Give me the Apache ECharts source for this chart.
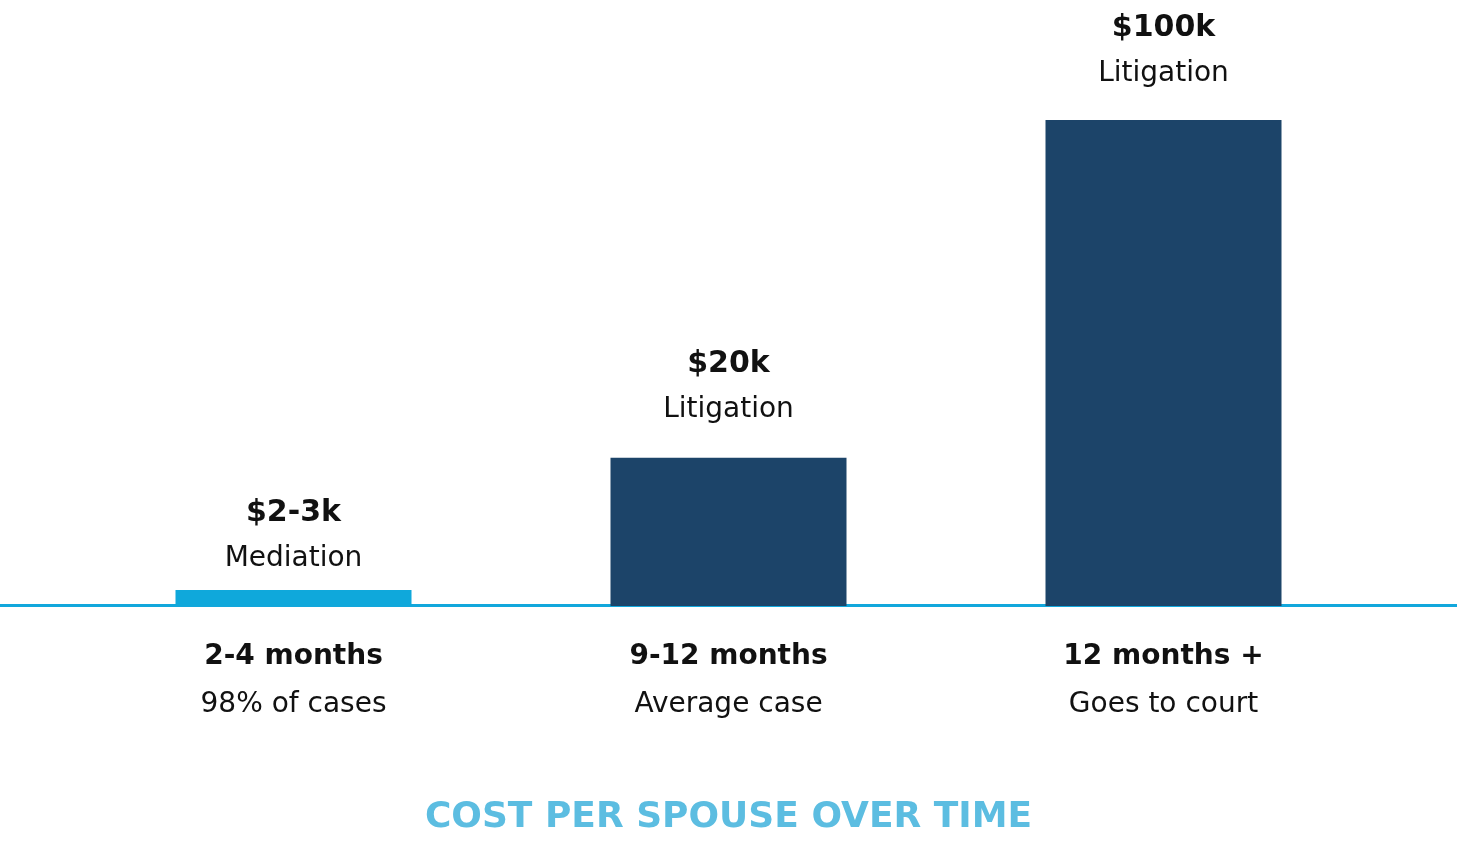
<!DOCTYPE html>
<html><head><meta charset="utf-8">
<script src="https://cdn.jsdelivr.net/npm/echarts@6/dist/echarts.min.js"></script>
<style>html,body{margin:0;padding:0;background:#fff}#c{width:1457px;height:842px}</style>
</head><body><div id="c"></div>
<script>
const categories = ['2-4 months', '9-12 months', '12 months +'];
const categorySubtitles = ['98% of cases', 'Average case', 'Goes to court'];
const barValues = [3.3, 30.5, 100];
const costLabels = ['$2-3k', '$20k', '$100k'];
const costTypes = ['Mediation', 'Litigation', 'Litigation'];
const barColors = ['#0fa8db', '#1c4469', '#1c4469'];
const labelDistances = [8, 25, 23];

const FONT = '"DejaVu Sans", "Noto Sans", sans-serif';
const chart = echarts.init(document.getElementById('c'));
chart.setOption({
  backgroundColor: '#fff',
  animation: false,
  title: {
    text: 'COST PER SPOUSE OVER TIME',
    left: 'center', top: 795,
    textStyle: { fontFamily: FONT, fontSize: 36, fontWeight: 'bold', color: '#5cbde1' }
  },
  grid: { left: 76, right: 76, top: 120, bottom: 236 },
  xAxis: {
    type: 'category', data: categories,
    axisLine: { show: false }, axisTick: { show: false },
    axisLabel: {
      margin: 27,
      formatter: (v, i) => '{b|' + v + '}\n{s|' + categorySubtitles[i] + '}',
      rich: {
        b: { fontFamily: FONT, fontSize: 28, fontWeight: 'bold', color: '#111', lineHeight: 48 },
        s: { fontFamily: FONT, fontSize: 28, color: '#111', lineHeight: 48 }
      }
    }
  },
  yAxis: { type: 'value', min: 0, max: 100, show: false, splitLine: { show: false } },
  series: [{
    type: 'bar', barWidth: 236, z: 2,
    data: barValues.map((v, i) => ({
      value: v,
      itemStyle: { color: barColors[i] },
      label: { distance: labelDistances[i] }
    })),
    label: {
      show: true, position: 'top',
      formatter: p => '{v|' + costLabels[p.dataIndex] + '}\n{n|' + costTypes[p.dataIndex] + '}',
      rich: {
        v: { fontFamily: FONT, fontSize: 30, fontWeight: 'bold', color: '#111', lineHeight: 46 },
        n: { fontFamily: FONT, fontSize: 28, color: '#111', lineHeight: 46 }
      }
    }
  }]
});
const y0 = chart.convertToPixel({ yAxisIndex: 0 }, 0);
chart.setOption({
  graphic: [{
    type: 'line', z: 1,
    shape: { x1: 0, y1: y0 - 0.5, x2: 1457, y2: y0 - 0.5 },
    style: { stroke: '#12a7dc', lineWidth: 3 }
  }]
});
</script></body></html>
